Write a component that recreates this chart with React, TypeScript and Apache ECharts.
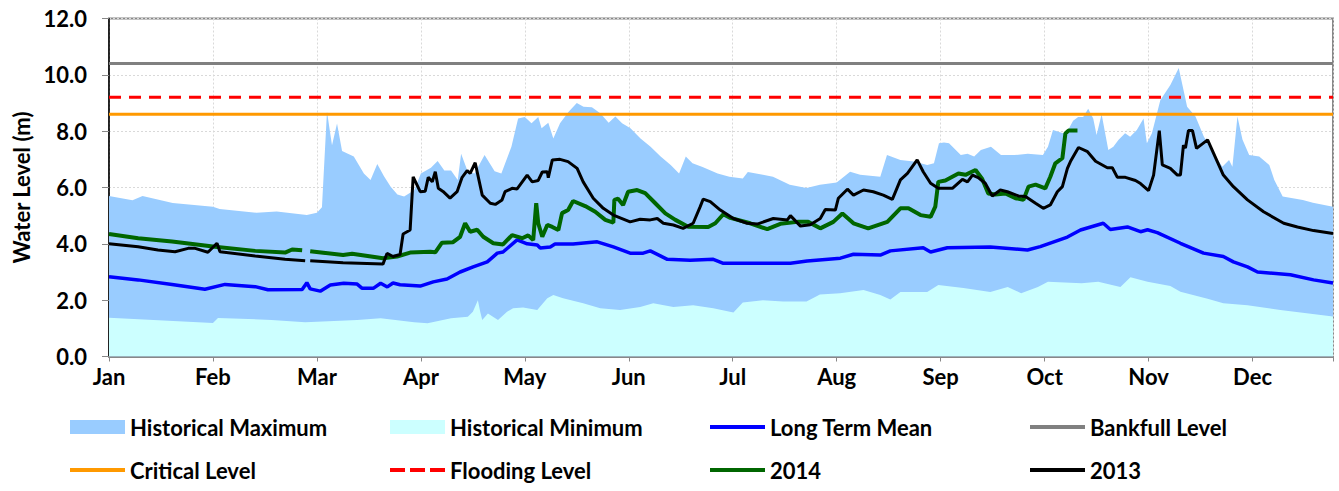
import React, { useEffect, useRef } from "react";
import * as echarts from "echarts";

// x values are day-of-axis (each month label spans 31 days, as on the original category axis)
const monthLabels = ["Jan", "Feb", "Mar", "Apr", "May", "Jun", "Jul", "Aug", "Sep", "Oct", "Nov", "Dec"];

const bankfullLevel = 10.4;
const floodingLevel = 9.2;
const criticalLevel = 8.6;

const histMax: [number, number][] = [
  [0, 5.7], [7, 5.55], [10, 5.7], [19, 5.45], [31, 5.32], [33, 5.24], [44, 5.1], [50, 5.15], [59, 5.02], [62, 5.1],
  [63.5, 5.3], [65, 8.7], [66.5, 7.5], [68, 8.27], [69.5, 7.3], [73, 7.1], [76, 6.5], [78, 6.27], [80, 6.83], [82, 6.4],
  [84, 6.03], [86, 5.75], [88, 5.68], [91, 5.9], [93, 6.5], [96, 6.7], [98, 6.94], [100, 6.6], [102, 6.6], [104, 6.27],
  [105, 7.2], [107, 6.56], [109, 6.5], [112, 7.15], [115, 6.58], [117, 6.5], [120, 7.45], [122, 8.45], [124, 8.5], [126, 8.28],
  [128, 8.5], [129, 8.1], [131, 8.3], [132.5, 7.74], [134.5, 8.28], [137, 8.68], [139.5, 9.0], [141.5, 8.87], [144, 8.85], [146.5, 8.64],
  [149, 8.3], [151, 8.52], [153, 8.28], [155.5, 8.1], [158.5, 7.74], [161.5, 7.45], [164.5, 7.1], [167.5, 6.8], [170, 6.5], [172, 7.1],
  [174, 6.86], [177, 6.73], [181.5, 6.5], [185, 6.38], [189, 6.32], [190.5, 6.55], [195, 6.45], [198, 6.38], [203, 6.1], [208, 5.98],
  [212, 6.1], [217, 6.18], [221, 6.56], [224, 6.45], [230, 6.38], [232, 7.15], [236, 6.98], [240, 6.92], [244, 6.8], [246, 6.86],
  [247.5, 7.57], [249, 7.6], [250.5, 7.57], [254, 7.15], [256, 7.2], [258, 7.1], [260, 7.33], [263, 7.45], [266, 7.15], [270, 7.15],
  [274, 7.2], [278.5, 7.15], [280, 7.45], [281.5, 8.04], [284.5, 7.93], [286, 8.04], [287.5, 8.37], [289, 8.5], [290.5, 8.5], [292, 8.8],
  [293.5, 8.45], [294.5, 7.86], [296, 8.6], [298, 7.33], [299.5, 7.45], [301, 7.69], [303, 7.93], [304.5, 7.8], [306.5, 8.04], [308.5, 8.45],
  [309.5, 7.57], [311, 7.93], [313.5, 9.1], [316.5, 9.64], [319, 10.24], [321.5, 8.87], [324, 8.52], [326.5, 7.8], [329.5, 7.2], [332, 6.74],
  [334, 6.98], [335, 6.74], [336.5, 8.52], [338, 7.7], [340, 7.15], [343, 7.1], [346, 6.8], [347.5, 6.27], [350, 5.68], [356, 5.56],
  [359, 5.46], [365, 5.32],
];

const histMin: [number, number][] = [
  [0, 1.38], [31, 1.19], [32.5, 1.37], [48.5, 1.3], [58.5, 1.22], [74, 1.3], [81, 1.36], [91, 1.22], [95, 1.18], [102, 1.36],
  [107, 1.41], [108.5, 1.59], [110, 2.0], [110.7, 1.59], [111.3, 1.3], [113, 1.53], [116, 1.3], [118.7, 1.59], [120.5, 1.71], [123.5, 1.74],
  [127.7, 1.65], [130.7, 2.07], [132.5, 2.18], [135.4, 2.07], [141.4, 1.89], [146.5, 1.71], [152.4, 1.65], [158.4, 1.76], [162.3, 1.89], [168.3, 1.76],
  [174.2, 1.82], [180.2, 1.71], [186.2, 1.56], [189, 1.92], [195, 2.0], [201, 1.95], [208, 1.95], [212, 2.2], [218, 2.25], [225, 2.36],
  [230, 2.18], [233, 2.02], [236, 2.29], [244, 2.29], [247.3, 2.54], [254.8, 2.43], [262.8, 2.29], [268, 2.47], [272, 2.25], [277, 2.47],
  [280, 2.65], [290, 2.6], [295, 2.65], [301.6, 2.47], [304.6, 2.81], [309.7, 2.65], [316.5, 2.5], [319.5, 2.3], [327.6, 2.05], [332.3, 1.89],
  [339.5, 1.82], [349.3, 1.65], [365, 1.42],
];

const longTermMean: [number, number][] = [
  [0, 2.83], [8.7, 2.72], [18.8, 2.56], [28.6, 2.39], [34.6, 2.56], [43.6, 2.48], [47.4, 2.37], [57.6, 2.38], [59, 2.62], [60, 2.4],
  [63, 2.32], [66, 2.54], [70, 2.6], [74, 2.57], [75.5, 2.42], [78.8, 2.42], [81, 2.6], [83, 2.47], [84.7, 2.61], [86.8, 2.55],
  [92.8, 2.5], [96.7, 2.65], [100.8, 2.75], [104.7, 3.0], [108.6, 3.18], [112.8, 3.36], [115.8, 3.67], [117.5, 3.71], [121.7, 4.14], [124.7, 4.0],
  [127.7, 3.96], [128.6, 3.85], [131.6, 3.89], [133, 3.99], [138.4, 3.99], [145.6, 4.07], [150.4, 3.89], [155.4, 3.67], [159.3, 3.67], [161.4, 3.75],
  [166.5, 3.45], [173.3, 3.42], [180.2, 3.45], [183.2, 3.31], [193.3, 3.31], [203.2, 3.31], [208.2, 3.39], [218.1, 3.49], [222, 3.63], [230, 3.6],
  [233, 3.75], [242.8, 3.86], [245, 3.71], [250, 3.86], [262.8, 3.89], [273.9, 3.78], [277.7, 3.9], [285.8, 4.24], [289.7, 4.49], [296.5, 4.73],
  [298.6, 4.51], [303.7, 4.6], [307.6, 4.43], [309.7, 4.5], [312.6, 4.4], [319.5, 4.02], [326.4, 3.67], [332.3, 3.55], [335.3, 3.36], [339.5, 3.18],
  [342.5, 3.0], [352.3, 2.9], [359.2, 2.72], [365, 2.61],
];

const level2014: [number, number | string][] = [
  [0, 4.35], [8.7, 4.2], [18.8, 4.08], [31.6, 3.9], [43.6, 3.75], [52.5, 3.69], [54.6, 3.8], [57.6, 3.77], [58.8, "-"], [60, 3.74],
  [69.8, 3.6], [72.5, 3.65], [81.7, 3.49], [85.9, 3.55], [89.8, 3.69], [95.8, 3.72], [97.3, 3.7], [99.3, 4.04], [102.6, 4.06], [104.7, 4.25],
  [106.2, 4.73], [107.7, 4.43], [109.8, 4.5], [111.6, 4.25], [114.6, 4.02], [117.5, 3.98], [120.2, 4.31], [123.2, 4.2], [125, 4.3], [126.5, 4.13],
  [127.4, 5.44], [128, 4.73], [129.2, 4.25], [130.7, 4.67], [132.2, 4.6], [134, 4.49], [135.1, 5.09], [136.9, 5.2], [138.4, 5.52], [142, 5.34],
  [145, 5.14], [148, 4.85], [150.4, 4.75], [150.7, 5.56], [151.8, 5.6], [153.3, 5.38], [154.8, 5.85], [157.5, 5.91], [159.9, 5.8], [162.9, 5.44],
  [165.9, 5.08], [168.9, 4.85], [172.7, 4.61], [178.7, 4.6], [180.8, 4.73], [183.2, 5.05], [185.3, 4.92], [191.2, 4.73], [196.3, 4.52], [200.2, 4.71],
  [205.3, 4.78], [208.5, 4.78], [212.1, 4.55], [216, 4.78], [218.7, 5.08], [222, 4.73], [226.4, 4.55], [232.1, 4.78], [236, 5.26], [238.4, 5.26],
  [242, 5.02], [245, 4.96], [246.4, 5.32], [247.3, 6.2], [249.4, 6.25], [253.3, 6.5], [255.4, 6.45], [258.4, 6.62], [260.4, 6.3], [262.2, 5.79],
  [264.3, 5.75], [267.3, 5.79], [270.3, 5.62], [272.7, 5.56], [274.2, 6.03], [276.3, 6.1], [279.2, 5.97], [280.7, 6.38], [282.2, 6.86], [284.3, 7.04],
  [285.2, 7.92], [286.1, 8.02], [288.8, 8.02],
];

const level2013: [number, number | string][] = [
  [0, 4.0], [8.7, 3.9], [14.6, 3.78], [19.7, 3.72], [23.6, 3.84], [25.7, 3.84], [29.5, 3.7], [32.2, 4.02], [33.1, 3.72], [43.6, 3.57],
  [52.5, 3.45], [58.5, 3.4], [59.2, "-"], [60, 3.4], [69.8, 3.33], [81.7, 3.28], [82.9, 3.66], [84.7, 3.55], [86.8, 3.62], [87.7, 4.35],
  [89.8, 4.49], [90.7, 6.38], [92.8, 5.85], [94.3, 5.87], [95.2, 6.36], [96.4, 6.2], [97.3, 6.56], [98.2, 5.97], [99.6, 5.86], [101.7, 5.62],
  [103.8, 5.85], [105.3, 6.36], [106.8, 6.6], [107.7, 6.5], [109.2, 6.88], [111.3, 5.73], [113.7, 5.44], [115.2, 5.4], [117.2, 5.56], [118.1, 5.85],
  [120.2, 5.97], [121.7, 5.95], [124.7, 6.44], [126.2, 6.2], [128, 6.25], [129.2, 6.55], [130.7, 6.56], [131, 6.35], [132.2, 6.98], [134.5, 7.0],
  [136.9, 6.92], [139.6, 6.68], [141.4, 6.2], [144.4, 5.62], [147.4, 5.26], [150.4, 5.02], [155.4, 4.78], [158.4, 4.87], [161.4, 4.85], [163.5, 4.9],
  [165.3, 4.73], [168.3, 4.67], [171.2, 4.55], [174.2, 4.73], [176.3, 5.32], [177.2, 5.59], [179.3, 5.5], [182.3, 5.2], [186.2, 4.9], [190.3, 4.73],
  [193.3, 4.7], [198.1, 4.9], [202.3, 4.85], [203.2, 5.0], [206.2, 4.63], [209.1, 4.68], [212.1, 4.9], [213.6, 5.22], [216.6, 5.2], [217.5, 5.62],
  [220.2, 5.94], [222, 5.73], [225, 5.91], [227.9, 5.85], [230.9, 5.73], [233.6, 5.58], [236, 6.27], [238.1, 6.5], [241, 6.98], [242.8, 6.56],
  [245, 6.15], [247.3, 5.97], [251.5, 5.97], [254.5, 6.29], [256, 6.2], [257.5, 6.44], [259.2, 6.35], [261.3, 6.15], [263.4, 5.7], [265.8, 5.91],
  [267.9, 5.85], [271.2, 5.7], [273.3, 5.68], [276.3, 5.44], [278.6, 5.26], [280.7, 5.38], [282.8, 5.85], [284.3, 6.03], [285.8, 6.68], [286.7, 6.92],
  [289.1, 7.42], [291.8, 7.27], [294.2, 6.93], [297.7, 6.7], [299.2, 6.7], [300.7, 6.36], [303.1, 6.36], [306.1, 6.25], [307.6, 6.14], [310, 5.89],
  [311.5, 6.44], [313.2, 8.02], [314.1, 6.8], [316.5, 6.68], [318.6, 6.44], [319.5, 6.44], [320.4, 7.5], [321, 7.4], [321.9, 8.02], [323.1, 8.02],
  [324.3, 7.39], [327.6, 7.69], [330.5, 6.92], [332.3, 6.44], [335.3, 6.03], [339.5, 5.56], [344.3, 5.14], [350.3, 4.73], [354.4, 4.6], [359.2, 4.47],
  [365, 4.37],
];

const AXIS_END = 365;
const FONT = "Lato";
const FS = 22;
const LINE_ICON = "path://M0,0 H55 V4 H0 Z";
const DASH_ICON = "path://M0,0 H15 V4 H0 Z M20,0 H35 V4 H20 Z M40,0 H55 V4 H40 Z";

export default function App() {
  const ref = useRef<HTMLDivElement>(null);
  useEffect(() => {
    if (!ref.current) return;
    const chart = echarts.init(ref.current, undefined, { renderer: "svg" });
    const flat = (v: number) => [[0, v], [AXIS_END, v]];
    const lineSeries = (name: string, data: any[], color: string, width: number, z: number, type: any = "solid") => ({
      name,
      type: "line",
      data,
      showSymbol: false,
      symbol: "none",
      color,
      itemStyle: { color },
      lineStyle: { color, width, type },
      z,
      silent: true,
    });
    const textStyle = { fontFamily: FONT, fontWeight: "bold", fontSize: FS, color: "#000", width: 260, lineHeight: 22 };
    const lastText = { width: 180 };
    const legendBase = {
      left: 70,
      padding: 0,
      itemWidth: 55,
      itemHeight: 14,
      itemGap: 0,
      textStyle,
      selectedMode: false,
    };
    chart.setOption({
      animation: false,
      grid: {
        left: 109,
        right: 6,
        top: 18.5,
        bottom: 134.5,
        show: true,
        borderColor: "#888888",
        borderWidth: 2,
        backgroundColor: "transparent",
      },
      xAxis: {
        type: "value",
        min: 0,
        max: AXIS_END,
        interval: 31,
        axisLine: { show: true, lineStyle: { color: "#888888", width: 2 } },
        axisTick: { show: true, length: 5, lineStyle: { color: "#888888" } },
        splitLine: { show: true, lineStyle: { color: "#D9D9D9", type: [2, 2], width: 1 } },
        axisLabel: {
          margin: 9,
          fontFamily: FONT,
          fontWeight: "bold",
          fontSize: FS,
          color: "#000",
          formatter: (v: number) => (v % 31 === 0 && v / 31 < 12 ? monthLabels[v / 31] : ""),
        },
      },
      yAxis: {
        type: "value",
        min: 0,
        max: 12,
        interval: 2,
        name: "Water Level (m)",
        nameLocation: "middle",
        nameGap: 77,
        nameTextStyle: { fontFamily: FONT, fontWeight: "bold", fontSize: FS, color: "#000" },
        axisLine: { show: true, lineStyle: { color: "#000", width: 1.5 } },
        axisTick: { show: true, length: 7, lineStyle: { color: "#888888" } },
        splitLine: { show: true, lineStyle: { color: "#D9D9D9", type: [2, 2], width: 1 } },
        axisLabel: {
          margin: 22,
          fontFamily: FONT,
          fontWeight: "bold",
          fontSize: FS,
          color: "#000",
          formatter: (v: number) => v.toFixed(1),
        },
      },
      legend: [
        {
          ...legendBase,
          top: 416,
          data: [
            { name: "Historical Maximum", icon: "rect" },
            { name: "Historical Minimum", icon: "rect" },
            { name: "Long Term Mean", icon: LINE_ICON },
            { name: "Bankfull Level", icon: LINE_ICON, textStyle: lastText },
          ],
        },
        {
          ...legendBase,
          top: 459,
          data: [
            { name: "Critical Level", icon: LINE_ICON },
            { name: "Flooding Level", icon: DASH_ICON },
            { name: "2014", icon: LINE_ICON },
            { name: "2013", icon: LINE_ICON, textStyle: lastText },
          ],
        },
      ],
      series: [
        {
          name: "Historical Maximum",
          type: "line",
          data: histMax,
          showSymbol: false,
          symbol: "none",
          color: "#99CCFF",
          itemStyle: { color: "#99CCFF" },
          lineStyle: { width: 0, color: "#99CCFF" },
          areaStyle: { color: "#99CCFF", opacity: 1 },
          z: 1,
          silent: true,
        },
        {
          name: "Historical Minimum",
          type: "line",
          data: histMin,
          showSymbol: false,
          symbol: "none",
          color: "#CCFFFF",
          itemStyle: { color: "#CCFFFF" },
          lineStyle: { width: 0, color: "#CCFFFF" },
          areaStyle: { color: "#CCFFFF", opacity: 1 },
          z: 2,
          silent: true,
        },
        lineSeries("Long Term Mean", longTermMean, "#0000FF", 3.5, 5),
        lineSeries("Bankfull Level", flat(bankfullLevel), "#808080", 3, 4),
        lineSeries("Critical Level", flat(criticalLevel), "#FF9900", 3, 4),
        lineSeries("Flooding Level", flat(floodingLevel), "#FF0000", 3, 4, [12, 8]),
        lineSeries("2014", level2014, "#006600", 4, 6),
        lineSeries("2013", level2013, "#000000", 3, 7),
      ],
    });
    return () => chart.dispose();
  }, []);
  return (
    <div
      ref={ref}
      style={{ position: "absolute", left: 0, top: 0, width: 1339, height: 491, background: "#fff" }}
    />
  );
}
